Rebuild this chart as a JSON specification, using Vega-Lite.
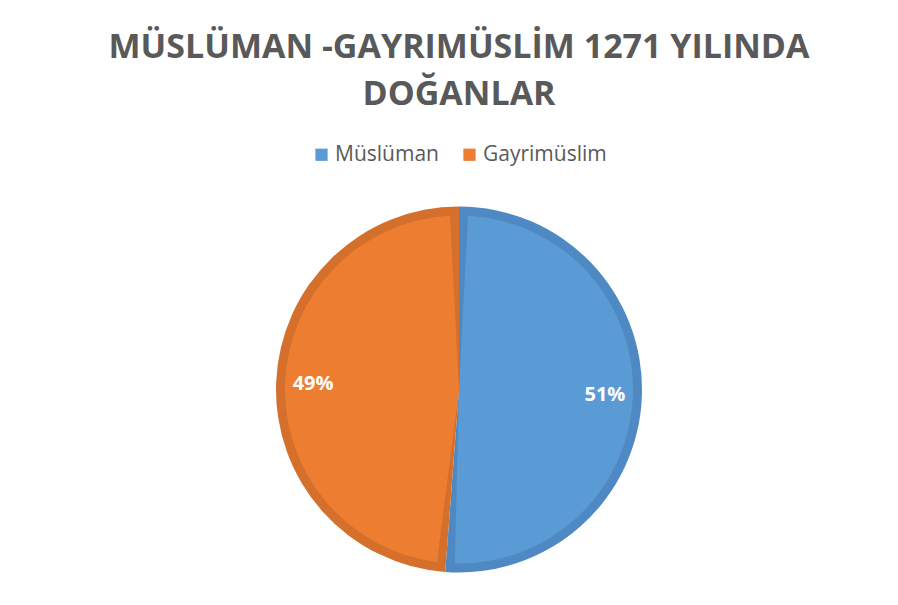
{
  "$schema": "https://vega.github.io/schema/vega-lite/v6.json",
  "width": 898,
  "height": 605,
  "autosize": {"type": "fit", "contains": "padding"},
  "padding": {"left": 23, "right": 3, "top": 31, "bottom": 32},
  "background": "white",
  "title": {
    "text": ["MÜSLÜMAN -GAYRIMÜSLİM 1271 YILINDA", "DOĞANLAR"],
    "font": "Open Sans",
    "fontSize": 34,
    "fontWeight": "bold",
    "color": "#595959",
    "lineHeight": 47,
    "anchor": "middle",
    "offset": 32
  },
  "data": {
    "values": [
      {"grup": "Müslüman", "oran": 51.2, "sira": 1, "etiket": "51%"},
      {"grup": "Gayrimüslim", "oran": 48.8, "sira": 2, "etiket": "49%"}
    ]
  },
  "encoding": {
    "theta": {"field": "oran", "type": "quantitative", "stack": true},
    "order": {"field": "sira", "type": "ordinal"}
  },
  "layer": [
    {
      "mark": {"type": "arc", "outerRadius": 183},
      "encoding": {
        "color": {
          "field": "grup",
          "type": "nominal",
          "scale": {"domain": ["Müslüman", "Gayrimüslim"], "range": ["#4e89c4", "#d4702b"]},
          "legend": null
        }
      }
    },
    {
      "mark": {"type": "arc", "outerRadius": 174, "padAngle": 0.1034},
      "encoding": {
        "color": {
          "field": "grup",
          "type": "nominal",
          "scale": {"domain": ["Müslüman", "Gayrimüslim"], "range": ["#5b9bd5", "#ed7d31"]},
          "legend": {
            "orient": "top",
            "direction": "horizontal",
            "title": null,
            "labelFont": "Open Sans",
            "labelFontSize": 21,
            "labelColor": "#595959",
            "symbolType": "square",
            "symbolSize": 150,
            "symbolStrokeWidth": 0,
            "columnPadding": 20,
            "labelOffset": 3,
            "offset": 41
          }
        }
      }
    },
    {
      "mark": {"type": "text", "radius": 146, "font": "Open Sans", "fontSize": 20, "fontWeight": "bold", "color": "white"},
      "encoding": {
        "detail": {"field": "grup", "type": "nominal"},
        "text": {"field": "etiket", "type": "nominal"}
      }
    }
  ],
  "resolve": {"scale": {"color": "independent"}},
  "config": {
    "view": {"stroke": null},
    "legend": {"layout": {"top": {"anchor": "middle"}}}
  }
}
